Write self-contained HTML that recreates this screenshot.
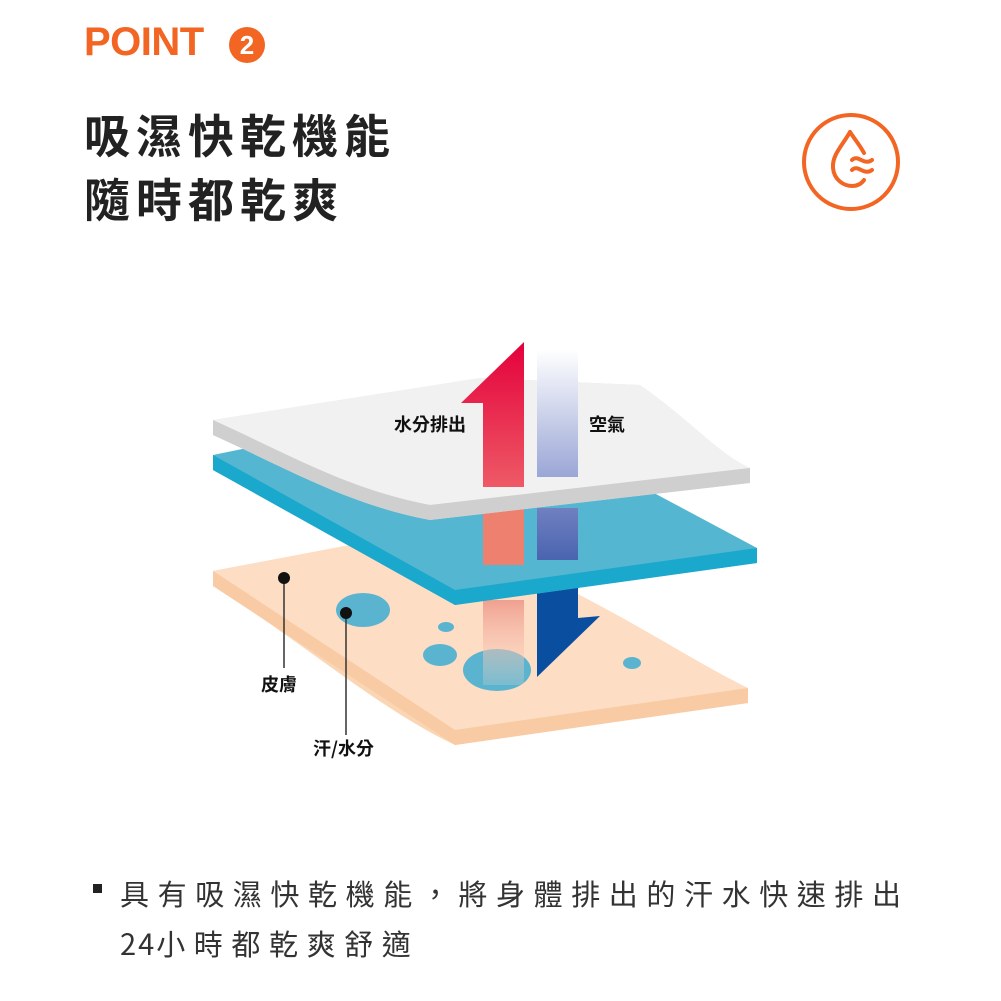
<!DOCTYPE html>
<html><head><meta charset="utf-8"><style>
html,body{margin:0;padding:0;background:#fff;}
body{width:1001px;height:1001px;position:relative;overflow:hidden;font-family:"Liberation Sans","Noto Sans CJK TC",sans-serif;}
.a{position:absolute;white-space:nowrap;}
.l{font-size:18px;font-weight:bold;color:#111;font-family:'Noto Sans CJK TC',sans-serif;}
</style></head><body>
<div class="a" style="left:84px;top:20px;font-size:40px;font-weight:bold;color:#f26522;letter-spacing:-0.5px;">POINT</div>
<div class="a" style="left:229px;top:27px;width:36px;height:36px;border-radius:50%;background:#f26522;color:#fff;font-weight:bold;font-size:26px;line-height:36px;text-align:center;">2</div>
<div class="a" style="left:84px;top:102px;font-size:46px;font-weight:bold;color:#222;letter-spacing:6px;line-height:64px;font-family:'Noto Sans CJK TC',sans-serif;">吸濕快乾機能<br>隨時都乾爽</div>

<svg class="a" style="left:0;top:0" width="1001" height="1001" viewBox="0 0 1001 1001">
<defs>
<linearGradient id="rg" x1="0" y1="0" x2="0" y2="1"><stop offset="0" stop-color="#e4003b"/><stop offset="1" stop-color="#ee5a66"/></linearGradient>
<linearGradient id="rg2" x1="0" y1="0" x2="0" y2="1"><stop offset="0" stop-color="#f0a090"/><stop offset="1" stop-color="#fbdac8" stop-opacity="0.2"/></linearGradient>
<linearGradient id="bg" x1="0" y1="0" x2="0" y2="1"><stop offset="0" stop-color="#fff"/><stop offset="1" stop-color="#9aa6d6"/></linearGradient>
<linearGradient id="bg2" x1="0" y1="0" x2="0" y2="1"><stop offset="0" stop-color="#7080c0"/><stop offset="1" stop-color="#4a64b0"/></linearGradient>
</defs>
<circle cx="851" cy="162" r="47" fill="none" stroke="#f26522" stroke-width="4"/>
<path d="M850 132 C842 146 832 155 833 168 C834 180 844 186 852 186 C858 186 862 183 864 180" fill="none" stroke="#f26522" stroke-width="4" stroke-linecap="round"/>
<path d="M850 132 C856 141 861 147 864 153" fill="none" stroke="#f26522" stroke-width="4" stroke-linecap="round"/>
<path d="M852 160 C858 154 864 166 872 160 M852 170 C858 164 864 176 872 170" fill="none" stroke="#f26522" stroke-width="4" stroke-linecap="round"/>

<path d="M213 571 L350 545 L560 585 C640 625 700 665 748 688 L748 703 L455 745 C380 710 300 640 213 586 Z" fill="#fbd6b4"/>
<path d="M213 571 L350 545 L560 585 C640 625 700 665 748 688 L455 730 C380 695 300 625 213 571 Z" fill="#fdddc4"/>
<path d="M213 571 L455 730 L748 688 L748 703 L455 745 L213 586 Z" fill="#f8cba4"/>
<ellipse cx="363" cy="610" rx="27" ry="17" fill="#5ab4d0"/>
<ellipse cx="446" cy="627" rx="8" ry="5" fill="#5ab4d0"/>
<ellipse cx="440" cy="655" rx="17" ry="11" fill="#5ab4d0"/>
<ellipse cx="497" cy="670" rx="34" ry="21" fill="#5ab4d0"/>
<ellipse cx="632" cy="663" rx="9" ry="6" fill="#5ab4d0"/>
<rect x="483" y="600" width="41" height="85" fill="url(#rg2)"/>
<path d="M537 583 L578 583 L578 618 L600 616 L537 677 Z" fill="#0a4ea0"/>
<line x1="284" y1="578" x2="284" y2="668" stroke="#333" stroke-width="1.5"/>
<circle cx="284" cy="578" r="6" fill="#111"/>
<line x1="346" y1="613" x2="346" y2="735" stroke="#333" stroke-width="1.5"/>
<circle cx="346" cy="613" r="6" fill="#111"/>

<path d="M213 455 L480 400 L757 548 L757 563 L455 605 L213 470 Z" fill="#54b6d0"/>
<path d="M213 455 L455 590 L757 548 L757 563 L455 605 L213 470 Z" fill="#1aa8cc"/>
<rect x="483" y="508" width="41" height="57" fill="#ee8070"/>
<rect x="537" y="508" width="41" height="52" fill="url(#bg2)"/>

<path d="M213 420 L480 378 L640 385 C690 420 720 455 750 468 L750 483 L430 520 C350 505 290 470 213 435 Z" fill="#e2e2e2"/>
<path d="M213 420 L480 378 L640 385 C690 420 720 455 750 468 L430 505 C350 490 290 455 213 420 Z" fill="#f1f1f1"/>
<path d="M213 420 C290 455 350 490 430 505 L750 468 L750 483 L430 520 C350 505 290 470 213 435 Z" fill="#cfcfcf"/>

<path d="M524 342 L524 487 L483 487 L483 403 L461 403 Z" fill="url(#rg)"/>
<rect x="537" y="350" width="41" height="127" fill="url(#bg)"/>
</svg>

<div class="a l" style="left:394px;top:411px;">水分排出</div>
<div class="a l" style="left:589px;top:411px;">空氣</div>
<div class="a l" style="left:261px;top:671px;">皮膚</div>
<div class="a l" style="left:313px;top:735px;">汗/水分</div>

<div class="a" style="left:93px;top:884px;width:9px;height:9px;background:#222;"></div>
<div class="a" style="left:120px;top:868px;font-size:29px;color:#333;letter-spacing:8.6px;line-height:50px;font-family:'Noto Sans CJK TC',sans-serif;">具有吸濕快乾機能，將身體排出的汗水快速排出<br><span style="letter-spacing:2px">24</span>小時都乾爽舒適</div>
</body></html>
